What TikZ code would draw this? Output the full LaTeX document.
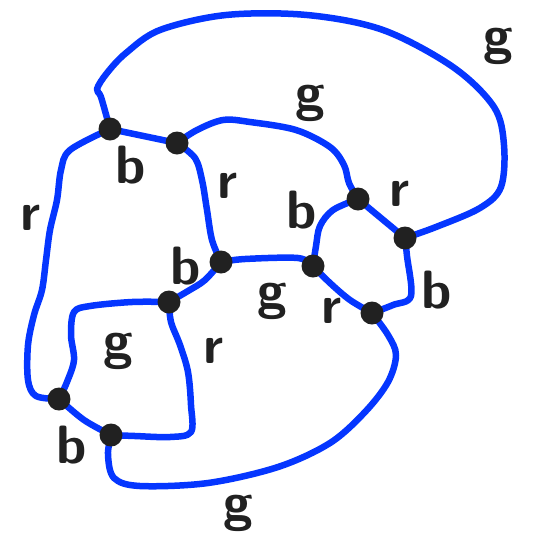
\documentclass[tikz,border=0pt]{standalone}
\definecolor{pen}{HTML}{0536FF}

\begin{document}
\begin{tikzpicture}[
  x=1pt, y=-1pt,
  wire/.style={line width=6.5pt, draw=pen, line cap=round, line join=round},
  curve/.style={smooth, tension=0.55},
  dot/.style={circle, fill=black!87, inner sep=0pt, minimum size=23pt},
  lbl/.style={font=\fontsize{54}{54}\selectfont\sffamily\bfseries, text=black!87},
]
  \useasboundingbox (0,0) rectangle (546,539);

  % vertices of the cubic graph
  \coordinate (A) at (110,129);
  \coordinate (B) at (177,143);
  \coordinate (C) at (221,262);
  \coordinate (D) at (169,302);
  \coordinate (E) at (358,199);
  \coordinate (F) at (405,238);
  \coordinate (G) at (313,266);
  \coordinate (H) at (372,313);
  \coordinate (I) at (59,399);
  \coordinate (J) at (111,435);

  % edges
  \draw[wire] plot[curve] coordinates {(A) (101,97) (97,89) (107,73) (126,53)
    (160,30) (226,15) (307,15) (383,30) (453,67) (494,107) (504,145) (501,187)
    (480,208) (436,227) (F)};
  \draw[wire] (A) -- (B);
  \draw[wire] plot[curve] coordinates {(A) (70,150) (61,170) (57,200) (50,230)
    (46,260) (42,290) (34,315) (28,345) (28,380) (36,396) (I)};
  \draw[wire] plot[curve] coordinates {(B) (197,130) (223,120) (250,122) (296,130)
    (330,147) (344,165) (349,183) (E)};
  \draw[wire] plot[curve] coordinates {(B) (195,158) (202,180) (207,210) (212,240) (C)};
  \draw[wire] plot[curve] coordinates {(C) (245,259) (298,258) (G)};
  \draw[wire] plot[curve] coordinates {(C) (205,280) (188,291) (D)};
  \draw[wire] plot[curve] coordinates {(E) (333,210) (320,226) (316,246) (G)};
  \draw[wire] (E) -- (F);
  \draw[wire] plot[curve] coordinates {(F) (407,256) (411,296) (393,305) (H)};
  \draw[wire] plot[curve] coordinates {(G) (330,283) (350,300) (H)};
  \draw[wire] plot[curve] coordinates {(H) (388,335) (396,355) (388,382) (365,412)
    (330,443) (278,467) (208,483) (140,486) (114,478) (108,455) (J)};
  \draw[wire] plot[curve] coordinates {(D) (132,302) (90,306) (74,312) (71,335)
    (74,360) (67,382) (I)};
  \draw[wire] plot[curve] coordinates {(D) (171,322) (180,345) (188,372) (191,405)
    (191,432) (170,437) (135,436) (J)};
  \draw[wire] plot[curve] coordinates {(I) (84,420) (J)};

  \foreach \v in {A,B,C,D,E,F,G,H,I,J}
    \node[dot] (\v-dot) at (\v) {};

  % colour labels
  \node[lbl] (lab) at (131,165) {b};
  \node[lbl] (lai) at (31,218) {r};
  \node[lbl] (lbe) at (310,103) {g};
  \node[lbl] (laf) at (498,46) {g};
  \node[lbl] (lbc) at (228,186) {r};
  \node[lbl] (lcd) at (186,266) {b};
  \node[lbl] (leg) at (302,210) {b};
  \node[lbl] (lef) at (400,194) {r};
  \node[lbl] (lfh) at (437,290) {b};
  \node[lbl] (lcg) at (272,301) {g};
  \node[lbl] (lgh) at (332,311) {r};
  \node[lbl] (ldi) at (118,351) {g};
  \node[lbl] (ldj) at (214,351) {r};
  \node[lbl] (lij) at (72,445) {b};
  \node[lbl] (lhj) at (238,513) {g};
\end{tikzpicture}
\end{document}
